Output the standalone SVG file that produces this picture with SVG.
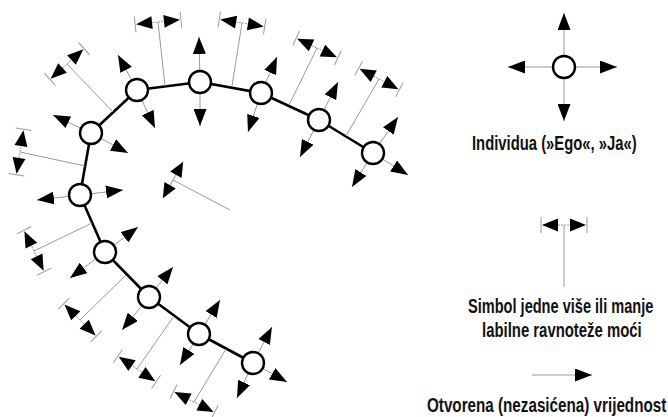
<svg xmlns="http://www.w3.org/2000/svg" xmlns:xlink="http://www.w3.org/1999/xlink" width="668" height="417" viewBox="0 0 668 417">
<style>
.thin{stroke:#9a9a9a;stroke-width:1;fill:none}
.arr{stroke:#9a9a9a;stroke-width:1;fill:none;marker-end:url(#ah)}
.chain{stroke:#000;stroke-width:2.6;fill:none;stroke-linejoin:round}
.node{fill:#fff;stroke:#000;stroke-width:2.4}
.lbl{font-family:"Liberation Sans",Arial,sans-serif;font-weight:bold;font-size:21px;fill:#111}
</style>
<defs>
<marker id="ah" viewBox="0 0 17 13" refX="17" refY="6.5" markerWidth="17" markerHeight="13" markerUnits="userSpaceOnUse" orient="auto"><path d="M0,0 L17,6.5 L0,13 Z" fill="#000"/></marker>
<g id="bal">
<line x1="-21" y1="0" x2="21" y2="0" class="thin" stroke-dasharray="2 1"/>
<path d="M-22,0 L-6,-6.5 L-6,6.5 Z M22,0 L6,-6.5 L6,6.5 Z" fill="#000"/>
<line x1="-23" y1="-8" x2="-23" y2="8" class="thin"/>
<line x1="23" y1="-8" x2="23" y2="8" class="thin"/>
</g>
<g id="bal2">
<line x1="-20" y1="0" x2="20" y2="0" class="thin"/>
<path d="M-21,0 L-6,-6.5 L-6,6.5 Z M21,0 L6,-6.5 L6,6.5 Z" fill="#000"/>
</g>
</defs>
<rect width="668" height="417" fill="#fff"/>

<g id="connectors">
<polyline class="chain" points="253,363 199,334 149,297 105,252 80,195 91,133 137,90 200,82 261,93 319,120 373,153"/>
<line class="thin" x1="165" y1="86" x2="158" y2="22"/>
<line class="thin" x1="232" y1="86" x2="242" y2="23"/>
<line class="thin" x1="289" y1="105" x2="317" y2="48"/>
<line class="thin" x1="346" y1="136" x2="379" y2="79"/>
<line class="thin" x1="113" y1="112" x2="67" y2="64"/>
<line class="thin" x1="85" y1="166" x2="20" y2="152"/>
<line class="thin" x1="92" y1="223" x2="34" y2="251"/>
<line class="thin" x1="126" y1="275" x2="80" y2="320"/>
<line class="thin" x1="174" y1="316" x2="137" y2="369"/>
<line class="thin" x1="226" y1="349" x2="194" y2="402"/>
<line class="thin" x1="230" y1="210" x2="173" y2="180"/>
</g>

<g id="balances">
<use xlink:href="#bal" transform="translate(158,22) rotate(-6)"/>
<use xlink:href="#bal" transform="translate(242,23) rotate(9)"/>
<use xlink:href="#bal" transform="translate(317,48) rotate(25)"/>
<use xlink:href="#bal" transform="translate(379,79) rotate(28)"/>
<use xlink:href="#bal" transform="translate(67,64) rotate(-42)"/>
<use xlink:href="#bal" transform="translate(20,152) rotate(-81)"/>
<use xlink:href="#bal" transform="translate(34,251) rotate(-116)"/>
<use xlink:href="#bal" transform="translate(80,320) rotate(-135)"/>
<use xlink:href="#bal" transform="translate(137,369) rotate(-146)"/>
<use xlink:href="#bal" transform="translate(194,402) rotate(-153)"/>
<use xlink:href="#bal2" transform="translate(173,180) rotate(-61)"/>
</g>

<g id="n1"><line class="arr" x1="137" y1="90" x2="118" y2="55"/><line class="arr" x1="137" y1="90" x2="155" y2="128"/><circle class="node" cx="137" cy="90" r="11"/></g>
<g id="n2"><line class="arr" x1="91" y1="133" x2="53" y2="115"/><line class="arr" x1="91" y1="133" x2="128" y2="153"/><circle class="node" cx="91" cy="133" r="11"/></g>
<g id="n3"><line class="arr" x1="80" y1="195" x2="37" y2="200"/><line class="arr" x1="80" y1="195" x2="123" y2="190"/><circle class="node" cx="80" cy="195" r="11"/></g>
<g id="n4"><line class="arr" x1="105" y1="252" x2="138" y2="227"/><line class="arr" x1="105" y1="252" x2="70" y2="278"/><circle class="node" cx="105" cy="252" r="11"/></g>
<g id="n5"><line class="arr" x1="149" y1="297" x2="173" y2="267"/><line class="arr" x1="149" y1="297" x2="122" y2="330"/><circle class="node" cx="149" cy="297" r="11"/></g>
<g id="n6"><line class="arr" x1="199" y1="334" x2="220" y2="300"/><line class="arr" x1="199" y1="334" x2="180" y2="365"/><circle class="node" cx="199" cy="334" r="11"/></g>
<g id="n7"><line class="arr" x1="253" y1="363" x2="272" y2="327"/><line class="arr" x1="253" y1="363" x2="237" y2="398"/><line class="arr" x1="253" y1="363" x2="287" y2="382"/><circle class="node" cx="253" cy="363" r="11"/></g>
<g id="n8"><line class="arr" x1="200" y1="82" x2="199" y2="37"/><line class="arr" x1="200" y1="82" x2="200" y2="126"/><circle class="node" cx="200" cy="82" r="11"/></g>
<g id="n9"><line class="arr" x1="261" y1="93" x2="277" y2="57"/><line class="arr" x1="261" y1="93" x2="248" y2="132"/><circle class="node" cx="261" cy="93" r="11"/></g>
<g id="n10"><line class="arr" x1="319" y1="120" x2="338" y2="82"/><line class="arr" x1="319" y1="120" x2="300" y2="157"/><circle class="node" cx="319" cy="120" r="11"/></g>
<g id="n11"><line class="arr" x1="373" y1="153" x2="398" y2="117"/><line class="arr" x1="373" y1="153" x2="352" y2="187"/><line class="arr" x1="373" y1="153" x2="408" y2="175"/><circle class="node" cx="373" cy="153" r="11"/></g>

<g id="legend-individual">
<line class="arr" x1="564" y1="67" x2="564" y2="13"/>
<line class="arr" x1="564" y1="67" x2="564" y2="121"/>
<line class="arr" x1="564" y1="67" x2="508" y2="67"/>
<line class="arr" x1="564" y1="67" x2="617" y2="67"/>
<circle class="node" cx="564" cy="67" r="11"/>
<text class="lbl" transform="translate(472,150) scale(0.71,1)" textLength="232" lengthAdjust="spacingAndGlyphs">Individua (»Ego«, »Ja«)</text>
</g>
<g id="legend-balance">
<line class="thin" x1="564" y1="225" x2="564" y2="287"/>
<use xlink:href="#bal" transform="translate(564,225)"/>
<text class="lbl" transform="translate(468,313) scale(0.71,1)" textLength="261" lengthAdjust="spacingAndGlyphs">Simbol jedne više ili manje</text>
<text class="lbl" transform="translate(482,337) scale(0.71,1)" textLength="225" lengthAdjust="spacingAndGlyphs">labilne ravnoteže moći</text>
</g>
<g id="legend-open">
<line class="arr" x1="532" y1="375" x2="592" y2="375"/>
<text class="lbl" transform="translate(427,412) scale(0.71,1)" textLength="337" lengthAdjust="spacingAndGlyphs">Otvorena (nezasićena) vrijednost</text>
</g>
</svg>
